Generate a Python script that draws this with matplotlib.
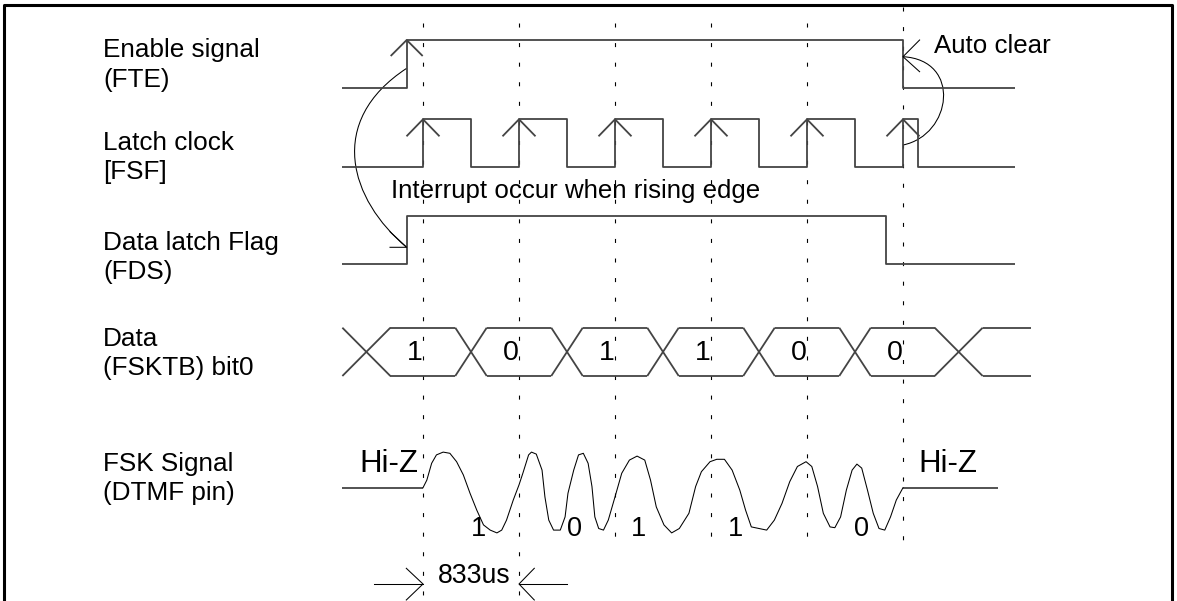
import matplotlib
matplotlib.use("Agg")
import matplotlib.pyplot as plt
from matplotlib.path import Path
from matplotlib.patches import PathPatch

plt.rcParams['font.family'] = ['Liberation Sans', 'DejaVu Sans']
plt.rcParams['lines.scale_dashes'] = False

# ---------------- data (time in bit periods, 1 bit = 833 us) ----------------
bit_period_label = "833us"
bits = [1, 0, 1, 1, 0, 0]                      # FSKTB bit0 values
clock_rise = [0, 1, 2, 3, 4, 5]                # latch clock rising edges
clock_fall = [0.5, 1.5, 2.5, 3.5, 4.5, 5.16]   # latch clock falling edges
fte_edges = [-0.17, 5.0]                       # enable: rise, auto clear
fds_edges = [-0.17, 4.82]                      # data latch flag: rise, fall
bus_cross = [-0.59, 0.50, 1.50, 2.50, 3.50, 4.50, 5.58]
bus_half = [0.25, 0.164, 0.164, 0.164, 0.164, 0.164, 0.25]
trace_start, trace_end, bus_end, hiz_end = -0.84, 6.17, 6.33, 5.99
fsk_start, fsk_end = 0.0, 5.0

fsk_t = [0.00, 0.04, 0.09, 0.14, 0.21, 0.28, 0.35, 0.42, 0.49, 0.56, 0.63, 0.70,
         0.77, 0.82, 0.87, 0.94, 1.00, 1.04, 1.10, 1.13, 1.18, 1.24, 1.27, 1.31,
         1.36, 1.43, 1.48, 1.51, 1.57, 1.62, 1.67, 1.72, 1.76, 1.79, 1.83, 1.88,
         1.93, 2.00, 2.07, 2.15, 2.23, 2.31, 2.37, 2.43, 2.51, 2.59, 2.67, 2.77,
         2.84, 2.90, 2.99, 3.06, 3.14, 3.22, 3.30, 3.36, 3.42, 3.50, 3.58, 3.66,
         3.74, 3.82, 3.90, 3.99, 4.05, 4.11, 4.17, 4.24, 4.29, 4.35, 4.41, 4.47,
         4.52, 4.57, 4.63, 4.69, 4.75, 4.81, 4.87, 4.93, 5.00]
fsk_v = [0.00, 0.19, 0.61, 0.82, 0.89, 0.86, 0.65, 0.32, -0.14, -0.56, -0.93, -1.06,
         -1.13, -1.06, -0.81, -0.31, 0.07, 0.36, 0.82, 0.89, 0.84, 0.44, -0.23, -0.81,
         -1.06, -1.06, -0.73, -0.14, 0.44, 0.82, 0.86, 0.61, 0.03, -0.73, -1.02, -1.06,
         -0.81, -0.23, 0.36, 0.69, 0.79, 0.69, 0.19, -0.48, -0.93, -1.13, -1.02, -0.64,
         0.03, 0.40, 0.65, 0.71, 0.71, 0.44, -0.06, -0.56, -0.98, -1.02, -1.06, -0.81,
         -0.39, 0.15, 0.53, 0.65, 0.53, 0.03, -0.64, -0.98, -1.00, -0.73, -0.06, 0.44,
         0.59, 0.49, -0.06, -0.64, -1.02, -1.06, -0.73, -0.31, 0.00]
fsk_label_t = [0.58, 1.58, 2.25, 3.26, 4.57]
fsk_bits = [1, 0, 1, 1, 0]

row_labels = [("Enable signal", "(FTE)"),
              ("Latch clock", "[FSF]"),
              ("Data latch Flag", "(FDS)"),
              ("Data", "(FSKTB) bit0"),
              ("FSK Signal", "(DTMF pin)")]

# ---------------- layout (pixels) ----------------
W, H = 1177, 601
X0, PX = 423.0, 96.0          # pixel x of t=0, pixels per bit
def tx(x):                    # pixel x -> time axis
    return (x - X0) / PX

fig = plt.figure(figsize=(W / 100, H / 100), dpi=100)
ax = fig.add_axes([0, 0, 1, 1])
ax.set_xlim(tx(0), tx(W))
ax.set_ylim(H, 0)
ax.axis('off')

SIG = dict(color='#444444', lw=1.3, solid_capstyle='butt')
THIN = dict(color='black', lw=0.75)
LBL = 18.8

# border
ax.plot([tx(4), tx(4), tx(1172), tx(1172)], [H, 5, 5, H], color='black', lw=2.2)

# row labels
label_base = [(57.5, 86.5), (150, 179.5), (250, 278.5), (346.5, 375.5), (471, 500)]
for (l1, l2), (b1, b2) in zip(row_labels, label_base):
    ax.text(tx(103), b1, l1, fontsize=LBL, ha='left', va='baseline')
    ax.text(tx(103), b2, l2, fontsize=LBL, ha='left', va='baseline')

# dashed timing lines
dash = (0, (2.9, 11.2))
for k in clock_rise:
    top = 7 if k == clock_rise[-1] else 23
    bot = H if k < 2 else 542
    ax.plot([k, k], [top, bot], color='black', lw=0.8, linestyle=dash)

def step(edges, lo, hi, start, end, level0=0):
    xs, ys = [start], [hi if level0 else lo]
    lvl = level0
    for e in edges:
        xs += [e, e]
        ys += [hi if lvl else lo]
        lvl = 1 - lvl
        ys += [hi if lvl else lo]
    xs.append(end)
    ys.append(hi if lvl else lo)
    ax.plot(xs, ys, **SIG)

def up_arrow(t, y, dx=16.5, dy=17):
    ax.plot([t - dx / PX, t, t + dx / PX], [y + dy, y, y + dy], **SIG)

# FTE
FTE_HI, FTE_LO = 40, 88
step(fte_edges, FTE_LO, FTE_HI, trace_start, trace_end)
up_arrow(fte_edges[0], FTE_HI, 16, 16)

# latch clock
CLK_HI, CLK_LO = 119.3, 167.3
clk_edges = [e for pair in zip(clock_rise, clock_fall) for e in pair]
step(clk_edges, CLK_LO, CLK_HI, trace_start, trace_end)
for r in clock_rise:
    up_arrow(r, CLK_HI)
ax.text(tx(391), 198.3, "Interrupt occur when rising edge", fontsize=18.6,
        ha='left', va='baseline')

# FDS
FDS_HI, FDS_LO = 216, 264
step(fds_edges, FDS_LO, FDS_HI, trace_start, trace_end)

# curve FTE -> FDS
def bez(p, **kw):
    path = Path(p, [Path.MOVETO, Path.CURVE4, Path.CURVE4, Path.CURVE4])
    ax.add_patch(PathPatch(path, fill=False, **kw))

xr = fte_edges[0]
bez([(xr, 68.3), (tx(325.5), 121.5), (tx(350), 200), (fds_edges[0], 247.3)], **THIN)
ax.plot([tx(390), fds_edges[0], tx(390)], [231.7, 247.3, 247.3], **THIN)

# auto clear curve clock -> FTE fall
xa = fte_edges[1]
bez([(clock_rise[-1], 145), (tx(952), 135), (tx(962), 60), (xa, 56.7)], **THIN)
ax.plot([xa + 16.6 / PX, xa, xa + 16.6 / PX], [40, 56.7, 71.7], **THIN)
ax.text(tx(934), 53.3, "Auto clear", fontsize=18.6, ha='left', va='baseline')

# data bus
BT, BB = 327.7, 376
for c, h in zip(bus_cross, bus_half):
    ax.plot([c - h, c + h], [BT, BB], **SIG)
    ax.plot([c - h, c + h], [BB, BT], **SIG)
for i in range(len(bus_cross) - 1):
    a = bus_cross[i] + bus_half[i]
    b = bus_cross[i + 1] - bus_half[i + 1]
    ax.plot([a, b], [BT, BT], **SIG)
    ax.plot([a, b], [BB, BB], **SIG)
ax.plot([bus_cross[-1] + bus_half[-1], bus_end], [BT, BT], **SIG)
ax.plot([bus_cross[-1] + bus_half[-1], bus_end], [BB, BB], **SIG)
for k, b in enumerate(bits):
    ax.text(k - 0.085, 360.5, str(b), fontsize=20.5, ha='center', va='baseline')

# FSK signal
HIZ, AMP = 487.7, 40.0
ax.plot([trace_start, fsk_start], [HIZ, HIZ], **SIG)
ax.plot([fsk_end, hiz_end], [HIZ, HIZ], **SIG)
ax.plot(fsk_t, [HIZ - AMP * v for v in fsk_v], **THIN)
ax.text(tx(359), 471.7, "Hi-Z", fontsize=22.5, ha='left', va='baseline')
ax.text(tx(918), 471.7, "Hi-Z", fontsize=22.5, ha='left', va='baseline')
for t, b in zip(fsk_label_t, fsk_bits):
    ax.text(t, 535.5, str(b), fontsize=19.5, ha='center', va='baseline')

# 833us dimension
YD = 584
ax.plot([tx(374.3), 0], [YD, YD], **THIN)
ax.plot([-16.7 / PX, 0, -16.7 / PX], [568.3, YD, 600], **THIN)
ax.plot([1, tx(566.7)], [YD, YD], **THIN)
ax.plot([1 + 15.3 / PX, 1, 1 + 15.3 / PX], [568.3, YD, 600], **THIN)
ax.text(tx(438), 582.7, bit_period_label, fontsize=19.2, ha='left', va='baseline')

fig.savefig("out.png", dpi=100)
